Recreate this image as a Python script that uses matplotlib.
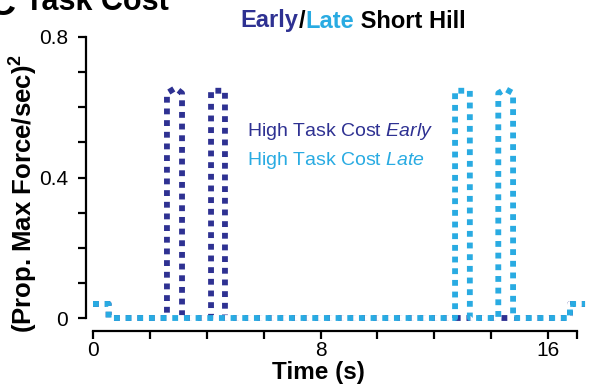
import matplotlib
matplotlib.use('Agg')
import matplotlib.pyplot as plt
from matplotlib.offsetbox import TextArea, HPacker, AnnotationBbox
from matplotlib.ticker import MultipleLocator, FixedLocator

plt.rcParams['font.family'] = 'Liberation Sans'
plt.rcParams['mathtext.fontset'] = 'custom'
plt.rcParams['mathtext.rm'] = 'Liberation Sans'
plt.rcParams['mathtext.it'] = 'Liberation Sans:italic'
plt.rcParams['mathtext.bf'] = 'Liberation Sans:bold'

DARK = '#2E3192'
LIGHT = '#29ABE2'

# task cost traces (time in s, cost in (prop. max force/sec)^2)
early_t = [0, 0.55, 0.55, 2.6, 2.6, 2.9, 3.13, 3.13, 4.15, 4.15, 4.64, 4.64, 16.77, 16.77, 17.3]
early_v = [0.04, 0.04, 0, 0, 0.64, 0.655, 0.64, 0, 0, 0.647, 0.647, 0, 0, 0.04, 0.04]

late_t = [0, 0.55, 0.55, 12.73, 12.73, 13.25, 13.25, 14.25, 14.25, 14.5, 14.77, 14.77, 16.77, 16.77, 17.3]
late_v = [0.04, 0.04, 0, 0, 0.647, 0.647, 0, 0, 0.64, 0.652, 0.64, 0, 0, 0.04, 0.04]

x_major = [0, 8, 16]
x_minor = [2, 4, 6, 10, 12, 14, 17]
y_major = [0, 0.4, 0.8]
y_labels = ['0', '0.4', '0.8']

fig = plt.figure(figsize=(5.89, 3.86), dpi=100)
ax = fig.add_axes([93 / 589, 68 / 386, 483.5 / 589, 281 / 386])

dots = (0, (1, 1))
ax.plot(early_t, early_v, color=DARK, lw=4.2, linestyle=dots, clip_on=False)
# late trace on top, gaps filled white so it sits cleanly over the early one
ax.plot(late_t, late_v, color=LIGHT, gapcolor='white', lw=4.2, linestyle=dots, clip_on=False)

ax.set_xlim(0, 17)
ax.set_ylim(0, 0.8)

for s in ['top', 'right']:
    ax.spines[s].set_visible(False)
ax.spines['left'].set_position(('outward', 5))
ax.spines['bottom'].set_position(('outward', 9.5))
ax.spines['left'].set_linewidth(1.6)
ax.spines['bottom'].set_linewidth(1.6)
ax.spines['bottom'].set_bounds(0, 17)

ax.xaxis.set_major_locator(FixedLocator(x_major))
ax.xaxis.set_minor_locator(FixedLocator(x_minor))
ax.yaxis.set_major_locator(FixedLocator(y_major))
ax.yaxis.set_minor_locator(MultipleLocator(0.1))
ax.set_xticklabels([str(v) for v in x_major])
ax.set_yticklabels(y_labels)
ax.tick_params(which='both', direction='out', length=6, width=1.6, labelsize=15)
ax.tick_params(axis='y', pad=7)
ax.tick_params(axis='x', pad=1)

ax.set_xlabel('Time (s)', fontsize=17.5, fontweight='bold')
ax.xaxis.set_label_coords(0.467, -0.152)
ax.set_ylabel('(Prop. Max Force/sec)$^\\mathbf{2}$', fontsize=18.5, fontweight='bold')
ax.yaxis.set_label_coords(-0.11, 0.445)

ax.text(5.41, 0.517, r'High Task Cost $\mathit{Early}$', color=DARK,
        fontsize=14, va='baseline', ha='left')
ax.text(5.41, 0.436, r'High Task Cost $\mathit{Late}$', color=LIGHT,
        fontsize=14, va='baseline', ha='left')

# two-colour title
title_parts = [('Early', DARK), ('/', 'black'), ('Late', LIGHT), (' Short Hill', 'black')]
boxes = [TextArea(t, textprops=dict(color=c, fontsize=17, fontweight='bold'))
         for t, c in title_parts]
title = HPacker(children=boxes, align='baseline', pad=0, sep=0)
fig.add_artist(AnnotationBbox(title, (353 / 589, 1 - 21 / 386), xycoords='figure fraction',
                              frameon=False, box_alignment=(0.5, 0.5)))

# panel label
fig.text(15 / 589, 1 - 15 / 386, 'C', fontsize=28, fontweight='bold', ha='right', va='baseline')
fig.text(25 / 589, 1 - 10 / 386, 'Task Cost', fontsize=22, fontweight='bold', ha='left', va='baseline')

fig.savefig('out.png', dpi=100)
